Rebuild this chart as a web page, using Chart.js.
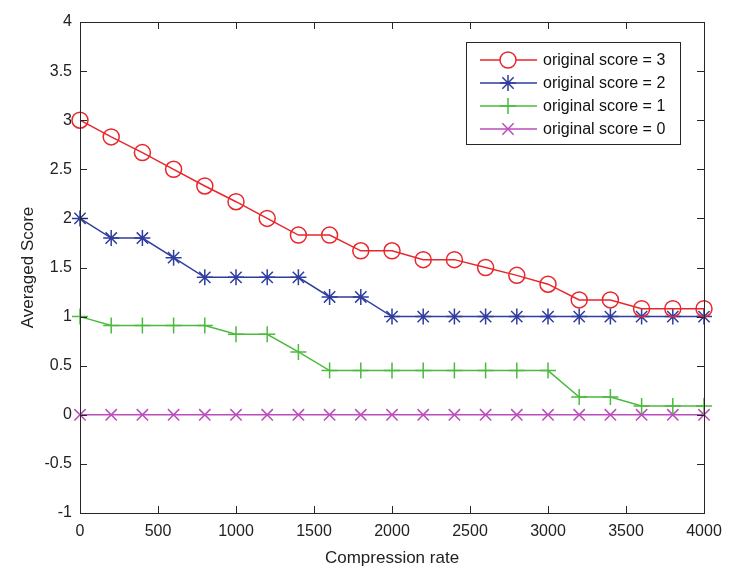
<!DOCTYPE html>
<html>
<head>
<meta charset="utf-8">
<script src="https://cdn.jsdelivr.net/npm/chart.js@4"></script>
<style>
  body { margin: 0; background: #fff; }
  #wrap { width: 735px; height: 584px; }
</style>
</head>
<body>
<div id="wrap"><canvas id="chart"></canvas></div>
<script>
const rates = [0, 200, 400, 600, 800, 1000, 1200, 1400, 1600, 1800, 2000,
               2200, 2400, 2600, 2800, 3000, 3200, 3400, 3600, 3800, 4000];
const score3 = [3, 2.83, 2.67, 2.5, 2.33, 2.17, 2.0, 1.83, 1.83, 1.67, 1.67,
                1.58, 1.58, 1.5, 1.42, 1.33, 1.17, 1.17, 1.08, 1.08, 1.08];
const score2 = [2, 1.8, 1.8, 1.6, 1.4, 1.4, 1.4, 1.4, 1.2, 1.2, 1.0,
                1.0, 1.0, 1.0, 1.0, 1.0, 1.0, 1.0, 1.0, 1.0, 1.0];
const score1 = [1, 0.91, 0.91, 0.91, 0.91, 0.82, 0.82, 0.64, 0.45, 0.45, 0.45,
                0.45, 0.45, 0.45, 0.45, 0.45, 0.18, 0.18, 0.09, 0.09, 0.09];
const score0 = [0, 0, 0, 0, 0, 0, 0, 0, 0, 0, 0,
                0, 0, 0, 0, 0, 0, 0, 0, 0, 0];
const seriesLabels = ['original score = 3', 'original score = 2', 'original score = 1', 'original score = 0'];
const xTicks = [0, 500, 1000, 1500, 2000, 2500, 3000, 3500, 4000];
const yTicks = [-1, -0.5, 0, 0.5, 1, 1.5, 2, 2.5, 3, 3.5, 4];

const colors = ['#e8262b', '#2f3d9f', '#4cba3e', '#bb4cbb'];
const markers = ['circle', 'star', 'cross', 'crossRot'];
const axisColor = '#262626';
const font = 'Liberation Sans, Arial, sans-serif';

const pts = ys => ys.map((y, i) => ({ x: rates[i], y }));

// box round the plot, inward ticks on all four sides, and the legend
const matlabAxes = {
  id: 'matlabAxes',
  afterDatasetsDraw(chart) {
    const { ctx, chartArea: a, scales } = chart;
    ctx.save();
    ctx.strokeStyle = axisColor;
    ctx.lineWidth = 1;
    ctx.strokeRect(a.left + 0.5, a.top + 0.5, a.right - a.left, a.bottom - a.top);
    ctx.beginPath();
    const tl = 7;
    xTicks.forEach(v => {
      const x = Math.round(scales.x.getPixelForValue(v)) + 0.5;
      ctx.moveTo(x, a.bottom); ctx.lineTo(x, a.bottom - tl);
      ctx.moveTo(x, a.top); ctx.lineTo(x, a.top + tl);
    });
    yTicks.forEach(v => {
      const y = Math.round(scales.y.getPixelForValue(v)) + 0.5;
      ctx.moveTo(a.left, y); ctx.lineTo(a.left + tl, y);
      ctx.moveTo(a.right, y); ctx.lineTo(a.right - tl, y);
    });
    ctx.stroke();

    // legend
    const bx = 466, by = 42, bw = 214, bh = 102;
    ctx.fillStyle = '#fff';
    ctx.fillRect(bx, by, bw, bh);
    ctx.strokeStyle = axisColor;
    ctx.strokeRect(bx + 0.5, by + 0.5, bw, bh);
    ctx.font = '16px ' + font;
    ctx.textBaseline = 'middle';
    seriesLabels.forEach((lab, i) => {
      const y = by + 18 + i * 23;
      ctx.strokeStyle = colors[i];
      ctx.lineWidth = 1.5;
      ctx.beginPath();
      ctx.moveTo(bx + 14, y); ctx.lineTo(bx + 71, y);
      ctx.stroke();
      Chart.helpers.drawPoint(ctx, { pointStyle: markers[i], radius: 8, borderWidth: 1.5, rotation: 0 }, bx + 42, y);
      ctx.fillStyle = '#111';
      ctx.fillText(lab, bx + 77, y + 1);
    });
    ctx.restore();
  }
};

new Chart(document.getElementById('chart'), {
  type: 'line',
  data: {
    datasets: [score3, score2, score1, score0].map((s, i) => ({
      label: seriesLabels[i],
      data: pts(s),
      borderColor: colors[i],
      borderWidth: 1.5,
      pointStyle: markers[i],
      pointRadius: 8,
      pointBorderWidth: 1.5,
      pointBorderColor: colors[i],
      pointBackgroundColor: 'rgba(0,0,0,0)',
      tension: 0,
      clip: false
    }))
  },
  options: {
    responsive: true,
    maintainAspectRatio: false,
    animation: false,
    events: [],
    layout: { padding: { top: 22, right: 31, left: 0, bottom: 0 } },
    plugins: { legend: { display: false }, tooltip: { enabled: false } },
    scales: {
      x: {
        type: 'linear',
        min: 0, max: 4000,
        afterBuildTicks: s => { s.ticks = xTicks.map(v => ({ value: v })); },
        afterFit: s => { s.height = 71; },
        grid: { display: false, drawTicks: false },
        border: { display: false },
        ticks: { color: '#222', font: { family: font, size: 16 }, padding: 9,
                 callback: v => String(v) },
        title: { display: true, text: 'Compression rate', color: '#222',
                 font: { family: font, size: 17 }, padding: { top: 2, bottom: 15 } }
      },
      y: {
        min: -1, max: 4,
        afterBuildTicks: s => { s.ticks = yTicks.map(v => ({ value: v })); },
        afterFit: s => { s.width = 80; },
        grid: { display: false, drawTicks: false },
        border: { display: false },
        ticks: { color: '#222', font: { family: font, size: 16 }, padding: 8,
                 callback: v => String(v) },
        title: { display: true, text: 'Averaged Score', color: '#222',
                 font: { family: font, size: 17 }, padding: { top: 18, bottom: 0 } }
      }
    }
  },
  plugins: [matlabAxes]
});
</script>
</body>
</html>
